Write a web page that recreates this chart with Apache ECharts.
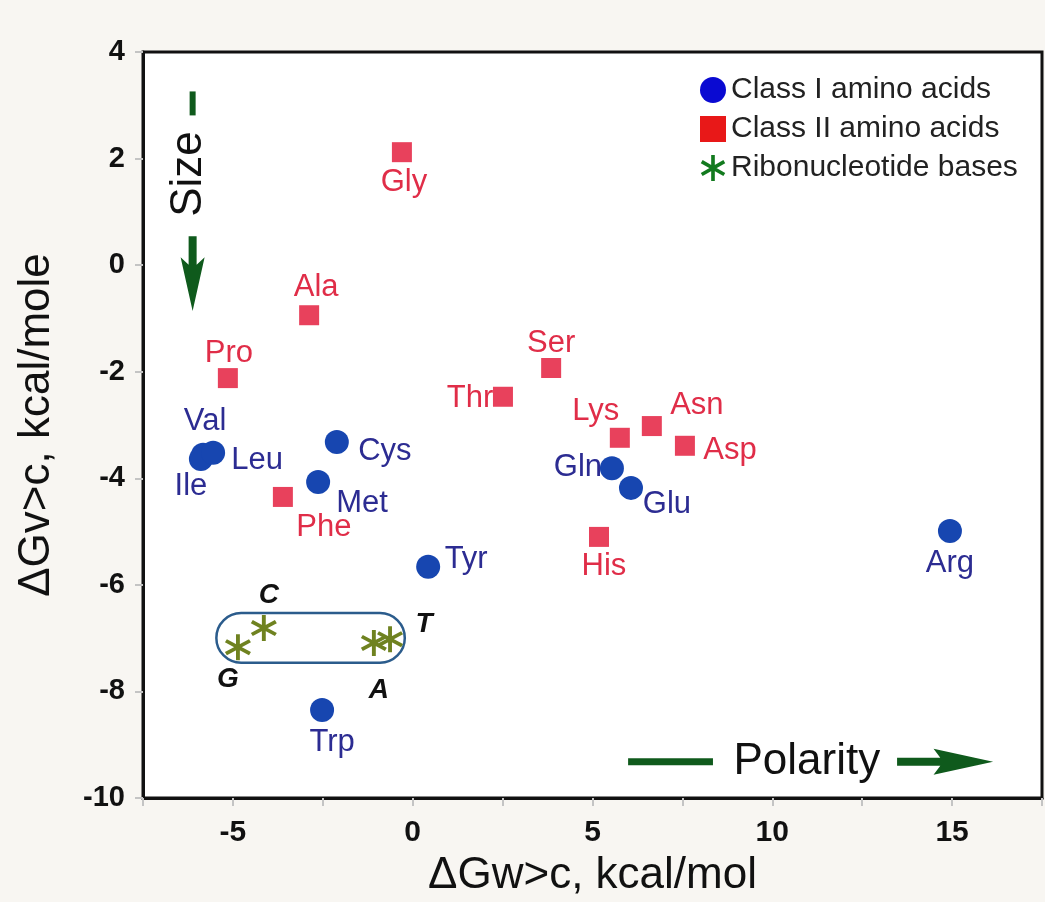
<!DOCTYPE html>
<html><head><meta charset="utf-8">
<script src="https://cdn.jsdelivr.net/npm/echarts@6/dist/echarts.min.js"></script>
<style>html,body{margin:0;padding:0;background:#f8f6f2}#c{width:1045px;height:902px}</style>
</head><body><div id="c"></div><script>
// ---- data ----
const classI = [
  ['Val', -5.83, -3.56], ['Ile', -5.89, -3.64], ['Leu', -5.55, -3.52],
  ['Cys', -2.11, -3.32], ['Met', -2.63, -4.07], ['Tyr', 0.43, -5.66],
  ['Trp', -2.52, -8.35], ['Gln', 5.54, -3.81], ['Glu', 6.07, -4.18],
  ['Arg', 14.94, -4.99]
];
const classII = [
  ['Gly', -0.30, 2.12], ['Ala', -2.88, -0.94], ['Pro', -5.14, -2.12],
  ['Ser', 3.85, -1.93], ['Thr', 2.51, -2.47], ['Lys', 5.76, -3.24],
  ['Asn', 6.65, -3.02], ['Asp', 7.57, -3.39], ['His', 5.18, -5.10],
  ['Phe', -3.61, -4.35]
];
const bases = [
  ['G', -4.86, -7.17], ['C', -4.14, -6.81], ['A', -1.08, -7.09], ['T', -0.63, -7.02]
];
const seriesNames = ['Class I amino acids', 'Class II amino acids', 'Ribonucleotide bases'];
const xTicks = { min: -7.5, max: 17.5, step: 2.5, labelEvery: 5 };
const yTicks = { min: -10, max: 4, step: 2 };
const baseBox = [-5.46, -6.53, -0.22, -7.46];   // x1, y1, x2, y2 (data units)

// ---- label placement (pixel offsets from marker centre) ----
const labelOffset = {
  Gly:[2,30], Ala:[7,-28], Pro:[1,-25], Val:[2,-33], Ile:[-10,27], Leu:[44,8],
  Cys:[48,9], Met:[44,21], Phe:[41,31], Thr:[-33,2], Ser:[0,-25], Lys:[-24,-26],
  Asn:[45,-21], Asp:[45,5], Gln:[-34,-1], Glu:[36,17], His:[5,30], Tyr:[38,-7],
  Trp:[10,32], Arg:[0,32], C:[5,-33], G:[-10,32], A:[5,47], T:[34,-15]
};

const FONT = 'Liberation Sans, Arial, Helvetica, sans-serif';
const asterisk = 'path://M7.99,-6.17L9.39,-3.75L-7.99,6.17L-9.39,3.75Z' +
  'M-9.39,-3.75L-7.99,-6.17L9.39,3.75L7.99,6.17Z' +
  'M-1.4,-10L1.4,-10L1.4,10L-1.4,10Z';

function items(arr, labelStyle) {
  return arr.map(d => ({
    name: d[0], value: [d[1], d[2]],
    label: Object.assign({ offset: labelOffset[d[0]] || [0, 0] }, labelStyle)
  }));
}
const baseLabel = { show: true, position: 'inside', formatter: '{b}', fontFamily: FONT,
  fontSize: 31, align: 'center', verticalAlign: 'middle' };

const chart = echarts.init(document.getElementById('c'), null, { renderer: 'canvas' });
const option = {
  backgroundColor: '#f8f6f2',
  animation: false,
  grid: { left: 143, right: 3, top: 52, bottom: 104, show: true, backgroundColor: '#ffffff',
          borderColor: '#111', borderWidth: 3, containLabel: false, outerBoundsMode: 'none' },
  legend: {
    orient: 'vertical', left: 695, top: 70, itemGap: 9, itemWidth: 26, itemHeight: 26,
    textStyle: { fontFamily: FONT, fontSize: 30, color: '#222' },
    data: [
      { name: seriesNames[0], icon: 'circle', itemStyle: { color: '#0a0ad2', opacity: 1 } },
      { name: seriesNames[1], icon: 'rect', itemStyle: { color: '#e81818', opacity: 1 } },
      { name: seriesNames[2], icon: asterisk, itemStyle: { color: '#127a1e', opacity: 1 } }
    ]
  },
  xAxis: {
    type: 'value', min: xTicks.min, max: xTicks.max, interval: xTicks.step,
    name: 'ΔGw>c, kcal/mol', nameLocation: 'middle', nameGap: 56,
    nameTextStyle: { fontFamily: FONT, fontSize: 44, color: '#111' },
    axisLine: { onZero: false, lineStyle: { color: '#111', width: 3 } },
    axisTick: { show: true, length: 8, lineStyle: { color: '#c4c4c4', width: 2 } },
    splitLine: { show: false },
    axisLabel: { margin: 20, fontFamily: FONT, fontSize: 30, fontWeight: 'bold', color: '#111',
      formatter: v => (Math.abs(v % xTicks.labelEvery) < 1e-9 ? String(v) : '') }
  },
  yAxis: {
    type: 'value', min: yTicks.min, max: yTicks.max, interval: yTicks.step,
    name: 'ΔGv>c, kcal/mole', nameLocation: 'middle', nameGap: 84,
    nameTextStyle: { fontFamily: FONT, fontSize: 44, color: '#111' },
    axisLine: { onZero: false, lineStyle: { color: '#111', width: 3 } },
    axisTick: { show: true, length: 8, lineStyle: { color: '#c4c4c4', width: 2 } },
    splitLine: { show: false },
    axisLabel: { margin: 18, fontFamily: FONT, fontSize: 29, fontWeight: 'bold', color: '#111' }
  },
  series: [
    {
      type: 'custom', name: 'box', z: 1, silent: true,
      data: [baseBox],
      renderItem: function (params, api) {
        const p1 = api.coord([api.value(0), api.value(1)]);
        const p2 = api.coord([api.value(2), api.value(3)]);
        const h = p2[1] - p1[1];
        return { type: 'rect', shape: { x: p1[0], y: p1[1], width: p2[0] - p1[0], height: h, r: h / 2 },
                 style: { fill: 'rgba(0,0,0,0)', stroke: '#2b5c8c', lineWidth: 2.5 } };
      }
    },
    {
      type: 'scatter', name: seriesNames[0], symbol: 'circle', symbolSize: 24, z: 3,
      itemStyle: { color: '#1746b0', opacity: 1 },
      data: items(classI, Object.assign({}, baseLabel, { color: '#2c2c92' }))
    },
    {
      type: 'scatter', name: seriesNames[1], symbol: 'rect', symbolSize: 20, z: 3,
      itemStyle: { color: '#e8415c', opacity: 1 },
      data: items(classII, Object.assign({}, baseLabel, { color: '#e02d48' }))
    },
    {
      type: 'scatter', name: seriesNames[2], symbol: asterisk, symbolSize: 26, z: 4,
      itemStyle: { color: '#6f8220', opacity: 1 },
      data: items(bases, Object.assign({}, baseLabel, { color: '#111', fontSize: 28,
        fontWeight: 'bold', fontStyle: 'italic' }))
    }
  ]
};
chart.setOption(option);

// ---- annotations (anchored in data units) ----
const GREEN = '#0f5a1c';
function px(x, y) { return chart.convertToPixel({ gridIndex: 0 }, [x, y]); }
const sizeX = -6.12;
const sDashTop = px(sizeX, 3.26), sDashBot = px(sizeX, 2.81);
const sText = px(-6.22, 1.71);
const sArrTop = px(sizeX, 0.54), sArrTip = px(sizeX, -0.86);
const polY = -9.32;
const pLineL = px(5.99, polY), pLineR = px(8.35, polY);
const pText = px(10.96, polY);
const pArrL = px(13.47, polY), pArrTip = px(16.14, polY);

function downArrow(top, tip) {
  const x = top[0], y0 = top[1], y1 = tip[1], L = y1 - y0;
  return [[x - 4, y0], [x + 4, y0], [x + 4, y0 + L * 0.38], [x + 12, y0 + L * 0.28],
          [x, y1], [x - 12, y0 + L * 0.28], [x - 4, y0 + L * 0.38]];
}
function rightArrow(left, tip) {
  const y = left[1], x0 = left[0], x1 = tip[0], L = x1 - x0;
  return [[x0, y - 4], [x0 + L * 0.45, y - 4], [x0 + L * 0.38, y - 13], [x1, y],
          [x0 + L * 0.38, y + 13], [x0 + L * 0.45, y + 4], [x0, y + 4]];
}

chart.setOption({
  graphic: [
    { type: 'rect', shape: { x: sDashTop[0] - 3, y: sDashTop[1], width: 6, height: sDashBot[1] - sDashTop[1] },
      style: { fill: GREEN }, z: 10 },
    { type: 'text', x: sText[0], y: sText[1], rotation: Math.PI / 2,
      style: { text: 'Size', font: '44px ' + FONT, fill: '#111', align: 'center', verticalAlign: 'middle' }, z: 10 },
    { type: 'polygon', shape: { points: downArrow(sArrTop, sArrTip) }, style: { fill: GREEN }, z: 10 },
    { type: 'rect', shape: { x: pLineL[0], y: pLineL[1] - 3.5, width: pLineR[0] - pLineL[0], height: 7 },
      style: { fill: GREEN }, z: 10 },
    { type: 'text', x: pText[0], y: pText[1], 
      style: { text: 'Polarity', font: '44px ' + FONT, fill: '#111', align: 'center', verticalAlign: 'middle' }, z: 10 },
    { type: 'polygon', shape: { points: rightArrow(pArrL, pArrTip) }, style: { fill: GREEN }, z: 10 }
  ]
});
</script></body></html>
